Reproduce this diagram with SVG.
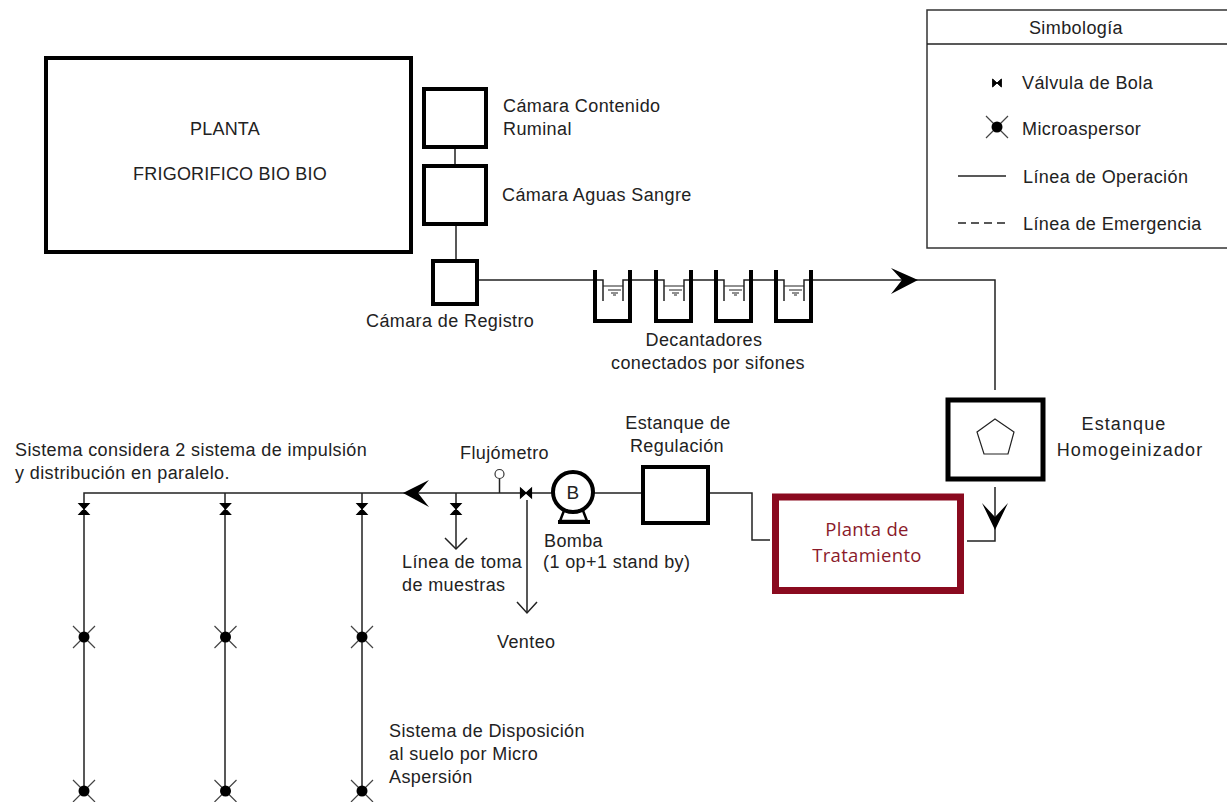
<svg xmlns="http://www.w3.org/2000/svg" width="1227" height="802" viewBox="0 0 1227 802">
<style>
text{font-family:"Liberation Sans",Arial,sans-serif;font-size:18px;letter-spacing:.4px;fill:#222}
.m{text-anchor:middle}
.wide{letter-spacing:1.1px}
.tight{letter-spacing:.2px}
.box{fill:#fff;stroke:#000;stroke-width:4}
.ln{fill:none;stroke:#222;stroke-width:1.5}
.thin{fill:none;stroke:#222;stroke-width:1.2}
.tk{fill:none;stroke:#000;stroke-width:4}
.pt{fill:#8a1a2a;font-family:"Open Sans",sans-serif;font-size:18.5px;letter-spacing:.3px}
</style>
<defs>
<g id="vv"><path d="M-5 -5.500H5L-5 5.500H5Z" fill="#000" stroke="#000" stroke-width="1.200"/></g>
<g id="sp"><path d="M-11 -11L11 11M-11 11L11 -11" stroke="#444" stroke-width="1.200"/><circle r="5.500" fill="#000"/></g>
<g id="tank"><path d="M2 0V51H37V0" class="tk"/><path d="M10 16H30M15 20H28M18 23H25M20 25H23" class="thin"/></g>
</defs>
<g id="connectors">
<path class="ln" d="M455 147V165M456 224V260M478 280H603V301M623 301V280H664V301M684 301V280H724V301M744 301V280H784V301M804 301V280H995V390M995 487V541H967M770 540H752V493H709M642 493H84V791M225 493V791M362 493V791M456 493V549M527 500V613"/>
<path class="ln" d="M445 538L456 549L467 538M517 602L527 613L537 602"/>
<path class="ln" d="M499.500 493V479"/>
<path d="M891 268L918 280L891 294L902 280Z" fill="#000"/>
<path d="M982 503L995 530L1008 503L995 517Z" fill="#000"/>
<path d="M429 480L403 493L429 507L418 493Z" fill="#000"/>
</g>
<g id="planta"><rect class="box" x="46" y="58" width="365" height="194"/><text class="m tight" x="225" y="135">PLANTA</text><text class="m tight" x="230" y="180">FRIGORIFICO BIO BIO</text></g>
<g id="camara-contenido"><rect class="box" x="424" y="89" width="62" height="58"/><text x="503" y="112">Cámara Contenido</text><text x="503" y="135">Ruminal</text></g>
<g id="camara-aguas"><rect class="box" x="424" y="166" width="62" height="58"/><text x="502" y="201">Cámara Aguas Sangre</text></g>
<g id="camara-registro"><rect class="box" x="433" y="261" width="44" height="43"/><text x="366" y="327">Cámara de Registro</text></g>
<g id="decantadores"><use href="#tank" x="593" y="270"/><use href="#tank" x="654" y="270"/><use href="#tank" x="714" y="270"/><use href="#tank" x="774" y="270"/><text class="m" x="704" y="346">Decantadores</text><text class="m" x="708" y="369">conectados por sifones</text></g>
<g id="homogeneizador"><rect x="948" y="400" width="95" height="79" fill="#fff" stroke="#000" stroke-width="5"/><path d="M995 419L1014 432L1008 454H984L977 432Z" fill="#fff" stroke="#222" stroke-width="1.200"/><text class="m wide" x="1124" y="430">Estanque</text><text class="m wide" x="1130" y="456">Homogeinizador</text></g>
<g id="planta-tratamiento"><rect x="775.500" y="497" width="185" height="93.500" fill="#fff" stroke="#8a0a1f" stroke-width="7"/><text class="m pt" x="867" y="536">Planta de</text><text class="m pt" x="867" y="562">Tratamiento</text></g>
<g id="estanque-regulacion"><rect class="box" x="643" y="467" width="65" height="56"/><text class="m" x="678" y="429">Estanque de</text><text class="m" x="677" y="452">Regulación</text></g>
<g id="bomba"><path d="M560 521L565 508H582L587 521Z" fill="#fff" stroke="#000" stroke-width="2.500"/><path d="M558 522H590" stroke="#000" stroke-width="4" fill="none"/><circle cx="573" cy="492" r="20" fill="#fff" stroke="#000" stroke-width="4"/><text class="m" x="573" y="499" style="font-size:19px">B</text><text x="544" y="547">Bomba</text><text x="543" y="568">(1 op+1 stand by)</text></g>
<g id="flujometro"><circle cx="499.500" cy="474" r="4.500" fill="#fff" stroke="#333" stroke-width="1.200"/><text x="460" y="459">Flujómetro</text></g>
<g id="valvulas"><use href="#vv" transform="translate(526 493) rotate(90)"/><use href="#vv" x="456" y="509"/><use href="#vv" x="84" y="509"/><use href="#vv" x="225.500" y="509"/><use href="#vv" x="362" y="509"/></g>
<g id="microaspersores"><use href="#sp" x="84" y="637"/><use href="#sp" x="225.500" y="637"/><use href="#sp" x="362" y="637"/><use href="#sp" x="84" y="791"/><use href="#sp" x="225.500" y="791"/><use href="#sp" x="362" y="791"/></g>
<g id="etiquetas"><text x="15" y="456">Sistema considera 2 sistema de impulsión</text><text x="15" y="479">y distribución en paralelo.</text><text x="402" y="568">Línea de toma</text><text x="402" y="591">de muestras</text><text x="497" y="648">Venteo</text><text x="389" y="737">Sistema de Disposición</text><text x="389" y="760">al suelo por Micro</text><text x="389" y="783">Aspersión</text></g>
<g id="simbologia"><rect x="927" y="10" width="310" height="238" fill="#fff" stroke="#333" stroke-width="1.500"/><path d="M927 44H1227" class="ln"/><text class="m" x="1076" y="34">Simbología</text>
<use href="#vv" transform="translate(997 83) rotate(90) scale(.8)"/><text x="1022" y="89">Válvula de Bola</text>
<use href="#sp" x="997" y="127"/><text x="1022" y="135">Microaspersor</text>
<path d="M958 176H1006" class="ln"/><text x="1023" y="183">Línea de Operación</text>
<path d="M958 223H1006" class="ln" stroke-dasharray="8 5"/><text x="1023" y="230">Línea de Emergencia</text></g>
</svg>
